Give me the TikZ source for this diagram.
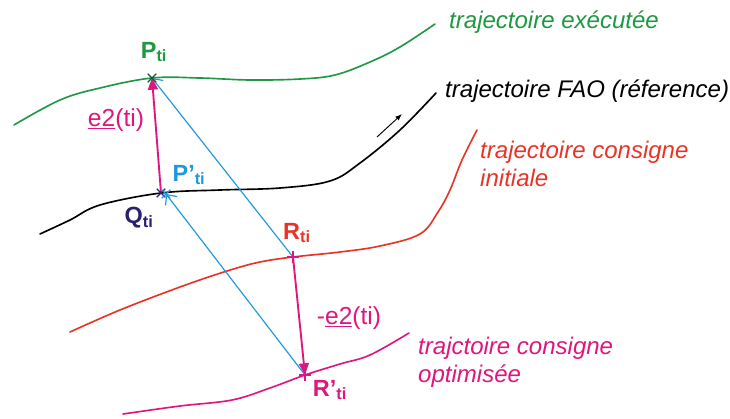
\documentclass[tikz,border=0pt]{standalone}
\usepackage{fontspec}
\setmainfont{Liberation Sans}
\usetikzlibrary{positioning,arrows.meta,shapes.misc}
\definecolor{trGreen}{RGB}{30,152,66}
\definecolor{trRed}{RGB}{232,52,40}
\definecolor{trPink}{RGB}{222,22,125}
\definecolor{trBlue}{RGB}{30,152,222}
\definecolor{trNavy}{RGB}{42,32,112}

\begin{document}
\begin{tikzpicture}[x=0.03cm, y=-0.03cm,
  trajline/.style={line width=1.4pt, line cap=round},
  vec/.style={-{Triangle[length=3.5mm,width=3mm]}, trPink, line width=1.6pt},
  proj/.style={-{Straight Barb[length=2.4mm,width=4.4mm]}, trBlue, line width=1pt},
  pointx/.style={cross out, draw, line width=1pt, minimum size=2.2mm, inner sep=0pt},
  pointp/.style={pointx, rotate=45},
  ptlabel/.style={inner sep=0pt, font={\fontsize{20}{22}\selectfont\bfseries}},
  veclabel/.style={inner sep=0pt, font={\fontsize{21}{24}\selectfont}},
  trlabel/.style={inner sep=0pt, anchor=west, align=left, font={\fontsize{20.5}{24}\selectfont\itshape}}]
  \useasboundingbox (0,0) rectangle (730,418);
  % points on the trajectories
  \coordinate (P) at (152,78);
  \coordinate (Q) at (161,193);
  \coordinate (Pp) at (166,194);
  \coordinate (R) at (293,257);
  \coordinate (Rp) at (305,375);
  % trajectories
  \draw[trajline, trGreen] plot[smooth, tension=0.6] coordinates {(14,125) (60,100) (100,88) (P) (200,78) (250,80) (300,79) (335,75) (370,62) (400,47) (435,24)};
  \draw[trajline, black] plot[smooth, tension=0.6] coordinates {(40,234) (70,220) (100,205) (Q) (220,190) (280,188) (330,181) (360,163) (400,130) (436,93)};
  \draw[trajline, trRed] plot[smooth, tension=0.6] coordinates {(70,332) (120,310) (180,287) (227,271) (260,262) (R) (340,252) (380,246) (420,234) (438,212) (450,190) (462,160) (477,130)};
  \draw[trajline, trPink] plot[smooth, tension=0.6] coordinates {(123,414) (180,406) (232,400) (270,388) (Rp) (340,364) (370,355) (409,333)};
  % direction
  \coordinate (dirA) at (377,137);
  \coordinate (dirB) at (402,114);
  \draw[-{Latex[length=2mm]}, line width=0.8pt] (dirA) -- (dirB);
  % vectors
  \draw[proj] (R) -- (P);
  \draw[proj] (Rp) -- (Pp);
  \draw[vec] (Q) -- (P);
  \draw[vec] (R) -- (Rp);
  % markers
  \node[pointx, trGreen!60!black] (mP) at (P) {};
  \node[pointx, trNavy] (mQ) at (Q) {};
  \node[pointx, trBlue] (mPp) at (Pp) {};
  \node[pointp, trPink] (mR) at (R) {};
  \node[pointp, trPink] (mRp) at (Rp) {};
  % labels
  \node[ptlabel, trGreen] (lP) at (154,52) {P\textsubscript{ti}};
  \node[ptlabel, trBlue] (lPp) at (189,175) {P’\textsubscript{ti}};
  \node[ptlabel, trNavy] (lQ) at (139,218) {Q\textsubscript{ti}};
  \node[ptlabel, trRed] (lR) at (297,233) {R\textsubscript{ti}};
  \node[ptlabel, trPink] (lRp) at (330,390) {R’\textsubscript{ti}};
  \node[veclabel, trPink] (le2) at (116,120) {\underline{e2}(ti)};
  \node[veclabel, trPink] (lme2) at (349,318) {-\underline{e2}(ti)};
  \node[trlabel, trGreen] (tExec) at (449,22) {trajectoire exécutée};
  \node[trlabel] (tFAO) at (445,91) {trajectoire FAO (réference)};
  \node[trlabel, trRed] (tInit) at (480,164) {trajectoire consigne\\initiale};
  \node[trlabel, trPink] (tOpt) at (418,362) {trajctoire consigne\\optimisée};
\end{tikzpicture}
\end{document}
